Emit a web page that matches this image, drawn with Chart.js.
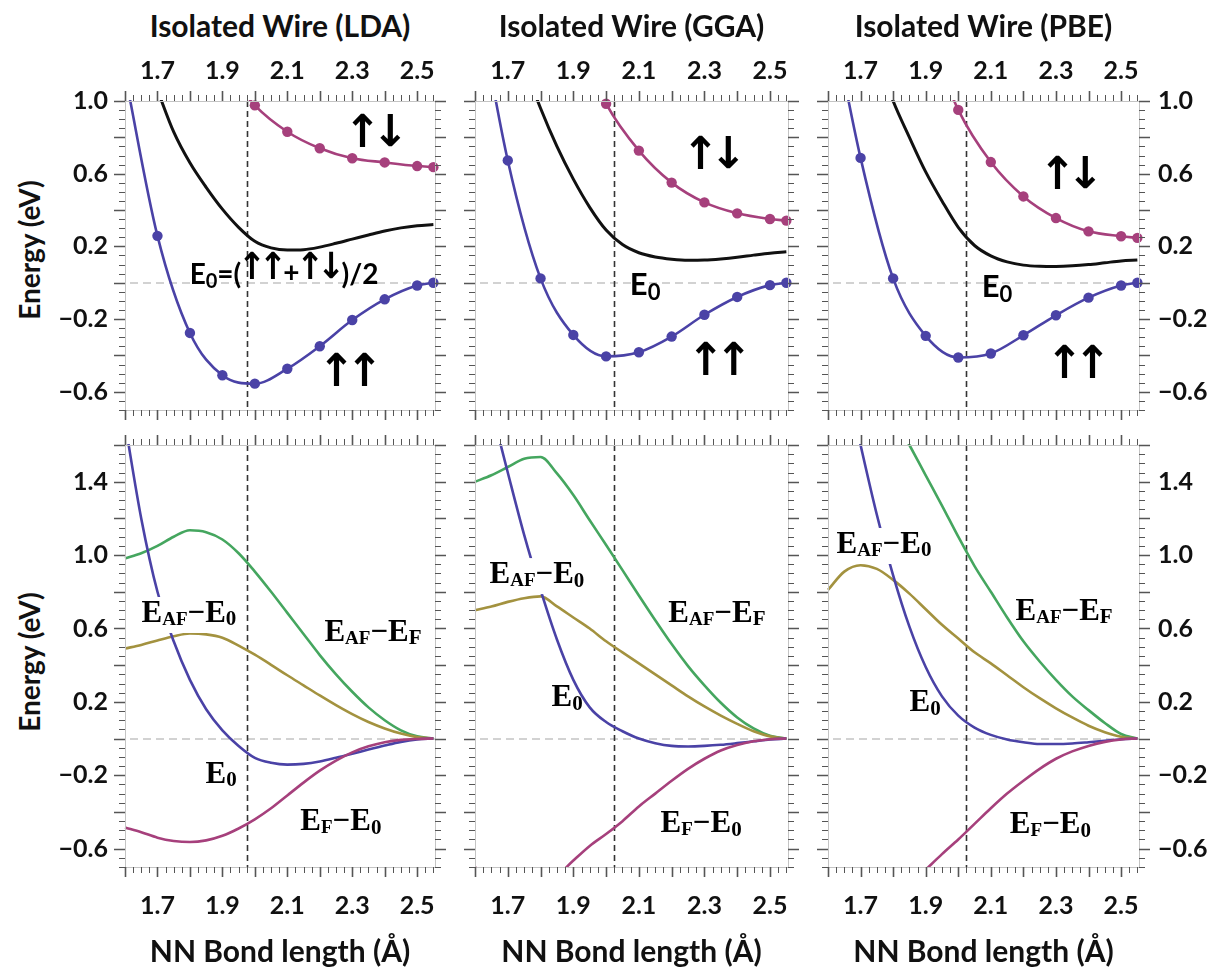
<!DOCTYPE html>
<html>
<head>
<meta charset="utf-8">
<script src="https://cdn.jsdelivr.net/npm/chart.js@4.4.1/dist/chart.umd.min.js"></script>
<style>
  body { margin: 0; background: #fff; }
  #fig { position: relative; width: 1222px; height: 970px; overflow: hidden; background: #fff; }
  .txt { position: absolute; white-space: nowrap; font-family: Lato, sans-serif; font-weight: bold; color: #111; }
  .title { font-size: 30px; }
  .axt { font-size: 30px; }
  .ayt { font-size: 28px; }
</style>
</head>
<body>
<div id="fig"></div>
<script>
// ---- data (bond length in Å, energy in eV) ----
const topX = [1.6, 1.7, 1.8, 1.9, 2.0, 2.1, 2.2, 2.3, 2.4, 2.5, 2.55];
const avgX = [1.7, 1.75, 1.8, 1.85, 1.9, 1.95, 2.0, 2.05, 2.1, 2.15, 2.2, 2.25, 2.3, 2.35, 2.4, 2.45, 2.5, 2.55];
const botX = [1.6, 1.65, 1.7, 1.75, 1.8, 1.85, 1.9, 1.95, 2.0, 2.05, 2.1, 2.15, 2.2, 2.25, 2.3, 2.35, 2.4, 2.45, 2.5, 2.55];

// top row: ferromagnetic (↑↑), antiferromagnetic (↑↓), average E0
const ldaUpUp = [1.15, 0.258, -0.276, -0.509, -0.555, -0.473, -0.349, -0.205, -0.091, -0.015, 0.0];
const ldaUpDn = [null, null, null, 1.2, 0.976, 0.831, 0.740, 0.685, 0.662, 0.642, 0.636];
const ldaAvg  = [1.06, 0.83, 0.66, 0.525, 0.405, 0.305, 0.228, 0.192, 0.18, 0.182, 0.196, 0.217, 0.24, 0.263, 0.285, 0.302, 0.314, 0.32];
const ggaUpUp = [1.63, 0.673, 0.024, -0.287, -0.405, -0.382, -0.296, -0.176, -0.078, -0.013, 0.0];
const ggaUpDn = [null, null, null, 1.4, 0.985, 0.727, 0.551, 0.442, 0.382, 0.351, 0.342];
const ggaAvg  = [null, 1.2, 0.96, 0.75, 0.57, 0.415, 0.29, 0.21, 0.165, 0.142, 0.13, 0.124, 0.125, 0.131, 0.14, 0.152, 0.163, 0.17];
const pbeUpUp = [1.58, 0.687, 0.024, -0.292, -0.411, -0.389, -0.289, -0.179, -0.082, -0.015, 0.0];
const pbeUpDn = [null, null, null, 1.4, 0.951, 0.664, 0.475, 0.356, 0.283, 0.256, 0.247];
const pbeAvg  = [null, 1.25, 1.0, 0.80, 0.61, 0.45, 0.305, 0.205, 0.148, 0.115, 0.097, 0.091, 0.09, 0.093, 0.10, 0.11, 0.12, 0.125];

// bottom row: E0, EAF-E0, EAF-EF, EF-E0
const ldaE0    = [1.72, 1.20, 0.80, 0.53, 0.32, 0.16, 0.045, -0.04, -0.105, -0.132, -0.142, -0.138, -0.125, -0.105, -0.083, -0.06, -0.038, -0.018, -0.005, 0];
const ldaEafE0 = [0.491, 0.51, 0.535, 0.558, 0.573, 0.568, 0.55, 0.507, 0.457, 0.402, 0.345, 0.29, 0.235, 0.182, 0.133, 0.09, 0.055, 0.027, 0.008, 0];
const ldaEafEf = [0.982, 1.01, 1.05, 1.10, 1.135, 1.125, 1.085, 1.01, 0.91, 0.80, 0.685, 0.57, 0.455, 0.35, 0.255, 0.17, 0.10, 0.045, 0.012, 0];
const ldaEfE0  = [-0.485, -0.51, -0.54, -0.558, -0.564, -0.555, -0.53, -0.49, -0.44, -0.38, -0.31, -0.24, -0.175, -0.12, -0.075, -0.042, -0.02, -0.007, -0.002, 0];
const ggaE0    = [null, 1.80, 1.45, 1.11, 0.81, 0.54, 0.32, 0.17, 0.09, 0.04, 0.0, -0.025, -0.04, -0.043, -0.04, -0.034, -0.025, -0.015, -0.005, 0];
const ggaEafE0 = [0.70, 0.72, 0.745, 0.765, 0.775, 0.72, 0.66, 0.60, 0.53, 0.47, 0.41, 0.35, 0.29, 0.23, 0.175, 0.125, 0.08, 0.04, 0.012, 0];
const ggaEafEf = [1.40, 1.435, 1.48, 1.525, 1.535, 1.445, 1.327, 1.19, 1.055, 0.918, 0.78, 0.645, 0.515, 0.395, 0.29, 0.195, 0.115, 0.055, 0.015, 0];
const ggaEfE0  = [-0.70, -0.78, -0.82, -0.84, -0.82, -0.75, -0.665, -0.585, -0.52, -0.45, -0.37, -0.30, -0.23, -0.165, -0.11, -0.065, -0.035, -0.015, -0.004, 0];
const pbeE0    = [null, 2.0, 1.60, 1.22, 0.89, 0.61, 0.39, 0.23, 0.125, 0.06, 0.02, -0.005, -0.02, -0.03, -0.03, -0.027, -0.02, -0.012, -0.004, 0];
const pbeEafE0 = [0.81, 0.91, 0.945, 0.925, 0.865, 0.79, 0.705, 0.62, 0.545, 0.47, 0.41, 0.345, 0.28, 0.22, 0.165, 0.115, 0.07, 0.035, 0.01, 0];
const pbeEafEf = [null, null, null, null, 1.76, 1.60, 1.435, 1.27, 1.10, 0.94, 0.80, 0.66, 0.53, 0.42, 0.32, 0.23, 0.155, 0.085, 0.025, 0];
const pbeEfE0  = [null, null, null, null, -0.88, -0.80, -0.715, -0.63, -0.55, -0.465, -0.38, -0.30, -0.23, -0.165, -0.11, -0.07, -0.04, -0.018, -0.005, 0];

// equilibrium bond length (dashed vertical)
const eqBond = [1.975, 2.025, 2.025];

const xTickLabels = [1.7, 1.9, 2.1, 2.3, 2.5];
const yTickLabelsTop = [1.0, 0.6, 0.2, -0.2, -0.6];
const yTickLabelsBot = [1.4, 1.0, 0.6, 0.2, -0.2, -0.6];
const titles = ['Isolated Wire (LDA)', 'Isolated Wire (GGA)', 'Isolated Wire (PBE)'];

// ---- layout ----
const colLeft = [125, 475, 828], colRight = [435, 788, 1139];
const rowTop = [101, 445], rowBottom = [410, 867];
const PAD = { left: 70, right: 75, top: 55, bottom: 60 };
const X_MIN = 1.6, X_MAX = 2.555, Y_MIN = -0.7, Y_MAX = [1.0, 1.6];

const COL = { blue: '#4a42a6', mag: '#a6407c', green: '#45a65f', olive: '#a3923f', black: '#111111' };

const sansF = s => `bold ${s}px Lato`;
const serF = s => `bold ${s}px 'Liberation Serif'`;
const MINUS = '\u2212';

// arrow glyphs are fitted to a box (w x h) with advance adv
const arr = (ch, w, h, adv) => ({ t: ch, arrow: true, bw: w, bh: h, adv });
const lblUpDn = [arr('↑', 21, 34, 28), arr('↓', 21, 34, 28)];
const lblUpUp = [arr('↑', 21, 34, 28), arr('↑', 21, 34, 28)];
const lblE0top = [{ t: 'E', f: sansF(31) }, { t: '0', f: sansF(22), dy: 8 }];
const lblAvg = [{ t: 'E', f: sansF(28) }, { t: '0', f: sansF(20), dy: 7 }, { t: '=(', f: sansF(28) },
  arr('↑', 16, 28, 21), arr('↑', 16, 28, 21), { t: '+', f: sansF(28), dy: -2 }, arr('↑', 16, 28, 21), arr('↓', 16, 28, 21),
  { t: ')/2', f: sansF(28) }];
const lblEafE0 = [{ t: 'E', f: serF(31) }, { t: 'AF', f: serF(19), dy: 6 }, { t: MINUS, f: serF(31) },
  { t: 'E', f: serF(31) }, { t: '0', f: serF(21), dy: 6 }];
const lblEafEf = [{ t: 'E', f: serF(31) }, { t: 'AF', f: serF(19), dy: 6 }, { t: MINUS, f: serF(31) },
  { t: 'E', f: serF(31) }, { t: 'F', f: serF(21), dy: 6 }];
const lblEfE0 = [{ t: 'E', f: serF(31) }, { t: 'F', f: serF(19), dy: 6 }, { t: MINUS, f: serF(31) },
  { t: 'E', f: serF(31) }, { t: '0', f: serF(21), dy: 6 }];
const lblE0bot = [{ t: 'E', f: serF(31) }, { t: '0', f: serF(21), dy: 6 }];

function curve(xs, ys, color, w) {
  return {
    data: xs.map((x, i) => ({ x, y: ys[i] })),
    borderColor: color, borderWidth: w || 2.6, pointRadius: 0,
    cubicInterpolationMode: 'monotone', fill: false,
    clip: { left: 1, top: 1, right: 1, bottom: 1 }
  };
}
function marks(xs, ys, color, yMax) {
  return {
    data: xs.map((x, i) => ({ x, y: ys[i] })),
    showLine: false, borderColor: color, pointBackgroundColor: color, pointBorderWidth: 0,
    pointRadius: c => (c.raw && c.raw.y != null && c.raw.y <= yMax) ? 5.2 : 0,
    clip: false
  };
}

const panels = [
  { row: 0, col: 0, sets: [marks(topX, ldaUpUp, COL.blue, 1), marks(topX, ldaUpDn, COL.mag, 1),
      curve(topX, ldaUpUp, COL.blue), curve(topX, ldaUpDn, COL.mag), curve(avgX, ldaAvg, COL.black, 3)],
    notes: [{ x: 2.373, y: 0.84, s: lblUpDn }, { x: 2.293, y: -0.474, s: lblUpUp }, { x: 2.09, y: 0.045, s: lblAvg }] },
  { row: 0, col: 1, sets: [marks(topX, ggaUpUp, COL.blue, 1), marks(topX, ggaUpDn, COL.mag, 1),
      curve(topX, ggaUpUp, COL.blue), curve(topX, ggaUpDn, COL.mag), curve(avgX, ggaAvg, COL.black, 3)],
    notes: [{ x: 2.329, y: 0.72, s: lblUpDn }, { x: 2.345, y: -0.414, s: lblUpUp }, { x: 2.119, y: -0.01, s: lblE0top }] },
  { row: 0, col: 2, sets: [marks(topX, pbeUpUp, COL.blue, 1), marks(topX, pbeUpDn, COL.mag, 1),
      curve(topX, pbeUpUp, COL.blue), curve(topX, pbeUpDn, COL.mag), curve(avgX, pbeAvg, COL.black, 3)],
    notes: [{ x: 2.346, y: 0.61, s: lblUpDn }, { x: 2.368, y: -0.43, s: lblUpUp }, { x: 2.119, y: -0.025, s: lblE0top }] },
  { row: 1, col: 0, sets: [curve(botX, ldaEfE0, COL.mag), curve(botX, ldaE0, COL.blue),
      curve(botX, ldaEafE0, COL.olive), curve(botX, ldaEafEf, COL.green)],
    notes: [{ x: 1.797, y: 0.679, s: lblEafE0, bg: true }, { x: 2.364, y: 0.575, s: lblEafEf },
      { x: 1.896, y: -0.199, s: lblE0bot }, { x: 2.265, y: -0.456, s: lblEfE0 }] },
  { row: 1, col: 1, sets: [curve(botX, ggaEfE0, COL.mag), curve(botX, ggaE0, COL.blue),
      curve(botX, ggaEafE0, COL.olive), curve(botX, ggaEafEf, COL.green)],
    notes: [{ x: 1.789, y: 0.891, s: lblEafE0, bg: true }, { x: 2.338, y: 0.679, s: lblEafEf },
      { x: 1.881, y: 0.22, s: lblE0bot }, { x: 2.29, y: -0.467, s: lblEfE0 }] },
  { row: 1, col: 2, sets: [curve(botX, pbeEfE0, COL.mag), curve(botX, pbeE0, COL.blue),
      curve(botX, pbeEafE0, COL.olive), curve(botX, pbeEafEf, COL.green)],
    notes: [{ x: 1.772, y: 1.055, s: lblEafE0, bg: true }, { x: 2.325, y: 0.69, s: lblEafEf },
      { x: 1.898, y: 0.193, s: lblE0bot }, { x: 2.283, y: -0.472, s: lblEfE0 }] }
];

function fmt(v) { return (v < 0 ? MINUS : '') + Math.abs(v).toFixed(1); }

// draw one arrow glyph stretched to fill a w x h box centred on (cx, cy)
function drawArrow(ctx, ch, cx, cy, w, h) {
  ctx.font = "bold 40px 'DejaVu Sans'";
  const m = ctx.measureText(ch);
  const gw = m.actualBoundingBoxLeft + m.actualBoundingBoxRight;
  const gh = m.actualBoundingBoxAscent + m.actualBoundingBoxDescent;
  ctx.save();
  ctx.translate(cx, cy);
  ctx.scale(w / gw, h / gh);
  ctx.textAlign = 'left'; ctx.textBaseline = 'alphabetic';
  ctx.fillText(ch, -(m.actualBoundingBoxRight - m.actualBoundingBoxLeft) / 2,
    (m.actualBoundingBoxAscent - m.actualBoundingBoxDescent) / 2);
  ctx.restore();
}

function drawRich(ctx, segs, cx, cy, bg) {
  let w = 0;
  segs.forEach(s => {
    if (s.arrow) s.w = s.adv;
    else { ctx.font = s.f; s.w = ctx.measureText(s.t).width; }
    w += s.w;
  });
  let x = cx - w / 2;
  if (bg) { ctx.fillStyle = '#fff'; ctx.fillRect(x - 2, cy - 17, w + 4, 36); }
  ctx.fillStyle = '#000';
  segs.forEach(s => {
    if (s.arrow) {
      ctx.fillStyle = '#000';
      drawArrow(ctx, s.t, x + s.w / 2, cy, s.bw, s.bh);
    } else {
      ctx.font = s.f; ctx.textAlign = 'left'; ctx.textBaseline = 'middle';
      ctx.fillText(s.t, x, cy + (s.dy || 0));
    }
    x += s.w;
  });
}

function framePlugin(p) {
  const yMax = Y_MAX[p.row];
  return {
    id: 'frame' + p.row + p.col,
    beforeDatasetsDraw(chart) {
      const { ctx, chartArea: a, scales: { x, y } } = chart;
      ctx.save();
      // zero reference
      const y0 = Math.round(y.getPixelForValue(0));
      ctx.strokeStyle = '#d2d2d2'; ctx.lineWidth = 2; ctx.setLineDash([8, 5]);
      ctx.beginPath(); ctx.moveTo(a.left + 5, y0); ctx.lineTo(a.right, y0); ctx.stroke();
      // equilibrium bond length
      const xe = Math.round(x.getPixelForValue(eqBond[p.col])) + 0.5;
      ctx.strokeStyle = '#333'; ctx.lineWidth = 1.6; ctx.setLineDash([6, 4]);
      ctx.beginPath(); ctx.moveTo(xe, a.top); ctx.lineTo(xe, a.bottom); ctx.stroke();
      ctx.restore();
    },
    afterDatasetsDraw(chart) {
      const { ctx, chartArea: a, scales: { x, y } } = chart;
      ctx.save();
      // annotations
      p.notes.forEach(n => drawRich(ctx, n.s, x.getPixelForValue(n.x), y.getPixelForValue(n.y), n.bg));
      // frame
      ctx.strokeStyle = '#c4c4c4'; ctx.lineWidth = 1;
      ctx.strokeRect(Math.round(a.left) + 0.5, Math.round(a.top) + 0.5, Math.round(a.width), Math.round(a.height));
      // x ticks (major 0.1, minor 0.025), outward on top and bottom
      ctx.strokeStyle = '#555';
      for (let k = 0; k <= 38; k++) {
        const v = X_MIN + k * 0.025;
        if (v > X_MAX + 1e-9) break;
        const px = Math.round(x.getPixelForValue(v)) + 0.5;
        const major = k % 4 === 0, len = major ? 10 : 6;
        ctx.lineWidth = major ? 1.6 : 1;
        ctx.beginPath();
        ctx.moveTo(px, a.top); ctx.lineTo(px, a.top - len);
        ctx.moveTo(px, a.bottom); ctx.lineTo(px, a.bottom + len);
        ctx.stroke();
      }
      // y ticks (major 0.2, minor 0.05), outward left and right
      const nY = Math.round((yMax - Y_MIN) / 0.05);
      for (let k = 0; k <= nY; k++) {
        const v = Y_MIN + k * 0.05;
        const py = Math.round(y.getPixelForValue(v)) + 0.5;
        const major = Math.abs(v * 5 - Math.round(v * 5)) < 1e-6, len = major ? 11 : 6;
        ctx.lineWidth = major ? 1.6 : 1;
        ctx.beginPath();
        ctx.moveTo(a.left, py); ctx.lineTo(a.left - len, py);
        ctx.moveTo(a.right, py); ctx.lineTo(a.right + len, py);
        ctx.stroke();
      }
      // tick labels
      ctx.fillStyle = '#111'; ctx.font = 'bold 25px Lato'; ctx.textBaseline = 'middle';
      ctx.textAlign = 'center';
      xTickLabels.forEach(v => {
        const px = x.getPixelForValue(v);
        if (p.row === 0) ctx.fillText(v.toFixed(1), px, a.top - 30);
        else ctx.fillText(v.toFixed(1), px, a.bottom + 39);
      });
      const yl = p.row === 0 ? yTickLabelsTop : yTickLabelsBot;
      yl.forEach(v => {
        const py = y.getPixelForValue(v);
        if (p.col === 0) { ctx.textAlign = 'right'; ctx.fillText(fmt(v), a.left - 17, py); }
        if (p.col === 2) { ctx.textAlign = 'left'; ctx.fillText(fmt(v), a.right + 19, py); }
      });
      ctx.restore();
    }
  };
}

const fig = document.getElementById('fig');
function addText(txt, cx, cy, cls, rot) {
  const d = document.createElement('div');
  d.className = 'txt ' + cls;
  d.textContent = txt;
  d.style.left = cx + 'px'; d.style.top = cy + 'px';
  d.style.transform = 'translate(-50%,-50%)' + (rot ? ' rotate(-90deg)' : '');
  fig.appendChild(d);
}

panels.forEach(p => {
  const cv = document.createElement('canvas');
  const w = colRight[p.col] - colLeft[p.col] + PAD.left + PAD.right;
  const h = rowBottom[p.row] - rowTop[p.row] + PAD.top + PAD.bottom;
  cv.width = w; cv.height = h;
  cv.style.cssText = `position:absolute;left:${colLeft[p.col] - PAD.left}px;top:${rowTop[p.row] - PAD.top}px;width:${w}px;height:${h}px`;
  fig.appendChild(cv);
  new Chart(cv, {
    type: 'line',
    data: { datasets: p.sets },
    options: {
      responsive: false, animation: false, devicePixelRatio: 1,
      layout: { padding: PAD },
      plugins: { legend: { display: false }, tooltip: { enabled: false } },
      scales: {
        x: { type: 'linear', min: X_MIN, max: X_MAX, display: false },
        y: { type: 'linear', min: Y_MIN, max: Y_MAX[p.row], display: false }
      }
    },
    plugins: [framePlugin(p)]
  });
});

titles.forEach((t, c) => {
  const cx = (colLeft[c] + colRight[c]) / 2;
  addText(t, cx, 25, 'title');
  addText('NN Bond length (Å)', cx, 950, 'axt');
});
addText('Energy (eV)', 29, 250, 'ayt', true);
addText('Energy (eV)', 29, 662, 'ayt', true);
</script>
</body>
</html>
